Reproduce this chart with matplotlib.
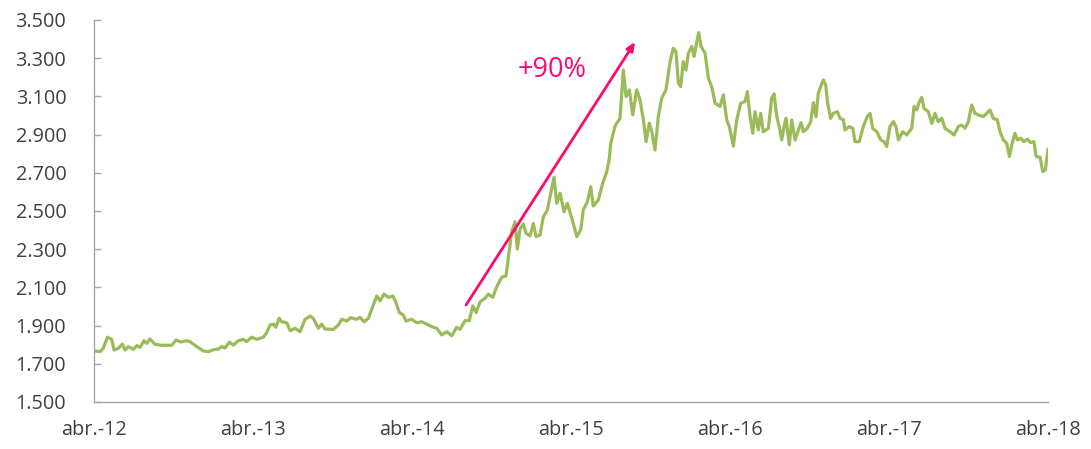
import matplotlib
matplotlib.use("Agg")
import matplotlib.pyplot as plt
from matplotlib.ticker import FuncFormatter, FixedLocator

# Time in decimal years, values in COP per USD
years = [
    2012.250, 2012.288, 2012.308, 2012.334, 2012.361, 2012.376, 2012.403, 2012.428, 2012.445, 2012.466,
    2012.497, 2012.519, 2012.539, 2012.564, 2012.581, 2012.602, 2012.634, 2012.676, 2012.739, 2012.766,
    2012.795, 2012.833, 2012.854, 2012.896, 2012.937, 2012.969, 2013.000, 2013.032, 2013.053, 2013.074,
    2013.101, 2013.126, 2013.158, 2013.189, 2013.210, 2013.242, 2013.273, 2013.315, 2013.336, 2013.357,
    2013.378, 2013.393, 2013.414, 2013.431, 2013.462, 2013.483, 2013.514, 2013.546, 2013.577, 2013.608,
    2013.629, 2013.661, 2013.682, 2013.703, 2013.755, 2013.786, 2013.808, 2013.839, 2013.864, 2013.902,
    2013.923, 2013.948, 2013.975, 2014.003, 2014.028, 2014.049, 2014.074, 2014.101, 2014.129, 2014.149,
    2014.170, 2014.195, 2014.212, 2014.248, 2014.280, 2014.311, 2014.342, 2014.374, 2014.405, 2014.437,
    2014.468, 2014.500, 2014.531, 2014.552, 2014.583, 2014.610, 2014.632, 2014.653, 2014.678, 2014.709,
    2014.730, 2014.758, 2014.783, 2014.814, 2014.841, 2014.856, 2014.877, 2014.898, 2014.912, 2014.929,
    2014.950, 2014.967, 2014.992, 2015.013, 2015.030, 2015.055, 2015.076, 2015.101, 2015.118, 2015.143,
    2015.160, 2015.181, 2015.206, 2015.227, 2015.244, 2015.264, 2015.286, 2015.311, 2015.327, 2015.353,
    2015.374, 2015.390, 2015.422, 2015.449, 2015.475, 2015.491, 2015.500, 2015.527, 2015.558, 2015.579,
    2015.596, 2015.617, 2015.638, 2015.663, 2015.684, 2015.705, 2015.722, 2015.742, 2015.758, 2015.778,
    2015.799, 2015.820, 2015.847, 2015.873, 2015.893, 2015.910, 2015.925, 2015.940, 2015.956, 2015.973,
    2015.988, 2016.009, 2016.024, 2016.041, 2016.053, 2016.068, 2016.093, 2016.114, 2016.135, 2016.156,
    2016.187, 2016.208, 2016.229, 2016.246, 2016.271, 2016.292, 2016.317, 2016.344, 2016.359, 2016.376,
    2016.393, 2016.407, 2016.428, 2016.443, 2016.459, 2016.491, 2016.512, 2016.527, 2016.544, 2016.564,
    2016.575, 2016.590, 2016.602, 2016.623, 2016.638, 2016.659, 2016.680, 2016.697, 2016.711, 2016.736,
    2016.758, 2016.774, 2016.791, 2016.805, 2016.820, 2016.837, 2016.852, 2016.864, 2016.883, 2016.900,
    2016.925, 2016.942, 2016.963, 2016.973, 2017.000, 2017.022, 2017.036, 2017.063, 2017.088, 2017.113,
    2017.131, 2017.147, 2017.173, 2017.198, 2017.219, 2017.235, 2017.256, 2017.277, 2017.294, 2017.309,
    2017.336, 2017.361, 2017.393, 2017.407, 2017.424, 2017.441, 2017.456, 2017.470, 2017.497, 2017.519,
    2017.539, 2017.560, 2017.582, 2017.602, 2017.634, 2017.659, 2017.686, 2017.707, 2017.728, 2017.749,
    2017.770, 2017.791, 2017.812, 2017.843, 2017.864, 2017.885, 2017.906, 2017.931, 2017.948, 2017.969,
    2017.990, 2018.007, 2018.022, 2018.042, 2018.057, 2018.078, 2018.099, 2018.120, 2018.141, 2018.162,
    2018.175, 2018.200, 2018.217, 2018.233, 2018.250,
]
cop_usd = [
    1768, 1763, 1781, 1839, 1828, 1772, 1781, 1804, 1772, 1790,
    1776, 1795, 1786, 1821, 1807, 1830, 1802, 1797, 1797, 1825,
    1814, 1821, 1816, 1790, 1767, 1763, 1774, 1777, 1790, 1783,
    1813, 1798, 1821, 1828, 1816, 1839, 1828, 1839, 1863, 1903,
    1908, 1891, 1938, 1920, 1915, 1873, 1886, 1868, 1933, 1950,
    1938, 1886, 1908, 1882, 1880, 1903, 1933, 1924, 1941, 1933,
    1943, 1920, 1938, 1999, 2055, 2030, 2065, 2048, 2055, 2020,
    1968, 1956, 1924, 1933, 1915, 1920, 1908, 1894, 1886, 1851,
    1868, 1847, 1891, 1880, 1926, 1926, 2003, 1968, 2025, 2043,
    2065, 2048, 2104, 2153, 2160, 2258, 2392, 2444, 2300, 2404,
    2432, 2383, 2369, 2435, 2366, 2374, 2470, 2505, 2575, 2677,
    2540, 2593, 2496, 2540, 2491, 2435, 2366, 2401, 2505, 2549,
    2627, 2526, 2558, 2645, 2706, 2776, 2855, 2945, 2985, 3238,
    3099, 3134, 3003, 3134, 3082, 2977, 2863, 2959, 2915, 2819,
    2994, 3090, 3134, 3282, 3352, 3335, 3169, 3151, 3282, 3238,
    3326, 3361, 3309, 3387, 3434, 3361, 3326, 3195, 3151, 3064,
    3047, 3108, 2977, 2942, 2840, 2977, 3064, 3073, 3125, 2994,
    2907, 3020, 2924, 3011, 2915, 2933, 3090, 3113, 2994, 2924,
    2872, 2942, 2985, 2846, 2977, 2872, 2924, 2962, 2915, 2933,
    2968, 3067, 2994, 3116, 3151, 3186, 3160, 3064, 2985, 3011,
    3020, 2985, 2977, 2924, 2942, 2933, 2863, 2863, 2942, 2994,
    3011, 2933, 2915, 2872, 2863, 2837, 2942, 2968, 2942, 2872,
    2915, 2898, 2933, 3047, 3029, 3073, 3095, 3037, 3020, 2959,
    3011, 2968, 2985, 2933, 2915, 2898, 2942, 2950, 2933, 2968,
    3055, 3011, 3003, 2994, 3011, 3029, 2985, 2977, 2915, 2872,
    2855, 2785, 2846, 2907, 2872, 2881, 2863, 2876, 2858, 2863,
    2785, 2782, 2706, 2715, 2823,
]

tick_years = [2012.25, 2013.25, 2014.25, 2015.25, 2016.25, 2017.25, 2018.25]
tick_labels = ["abr.-12", "abr.-13", "abr.-14", "abr.-15", "abr.-16", "abr.-17", "abr.-18"]
y_ticks = [1500, 1700, 1900, 2100, 2300, 2500, 2700, 2900, 3100, 3300, 3500]

arrow_start = (2014.590, 2008)
arrow_end = (2015.653, 3385)
annotation_text = "+90%"
annotation_pos = (2015.13, 3240)

plt.rcParams['font.family'] = ['Open Sans', 'DejaVu Sans']

fig = plt.figure(figsize=(10.91, 4.49), dpi=100)
ax = fig.add_axes([0.0862, 0.1047, 0.8744, 0.8508])

green = "#9BBB59"
pink = "#FF0A6C"
text_col = "#404040"

ax.plot(years, cop_usd, color=green, linewidth=2.3, solid_joinstyle='round')

ax.set_xlim(tick_years[0], tick_years[-1])
ax.set_ylim(y_ticks[0], y_ticks[-1])

ax.xaxis.set_major_locator(FixedLocator(tick_years))
ax.set_xticklabels(tick_labels)
ax.yaxis.set_major_locator(FixedLocator(y_ticks))
ax.yaxis.set_major_formatter(FuncFormatter(lambda v, p: f"{int(v):,}".replace(",", ".")))

for s in ["top", "right"]:
    ax.spines[s].set_visible(False)
for s in ["left", "bottom"]:
    ax.spines[s].set_color("#A6A6A6")
    ax.spines[s].set_linewidth(1.0)

ax.tick_params(axis='y', direction='in', length=5, width=1, color="#A6A6A6",
               labelsize=14.3, labelcolor=text_col, pad=20)
ax.tick_params(axis='x', length=0, labelsize=14.3, labelcolor=text_col, pad=13)

ax.annotate("", xy=arrow_end, xytext=arrow_start,
            arrowprops=dict(arrowstyle="-|>,head_length=0.5,head_width=0.22",
                            color=pink, lw=2.0, shrinkA=0, shrinkB=0))
ax.text(annotation_pos[0], annotation_pos[1], annotation_text, color=pink,
        fontsize=19.5, ha='center', va='center')

fig.savefig("out.png", dpi=100)
